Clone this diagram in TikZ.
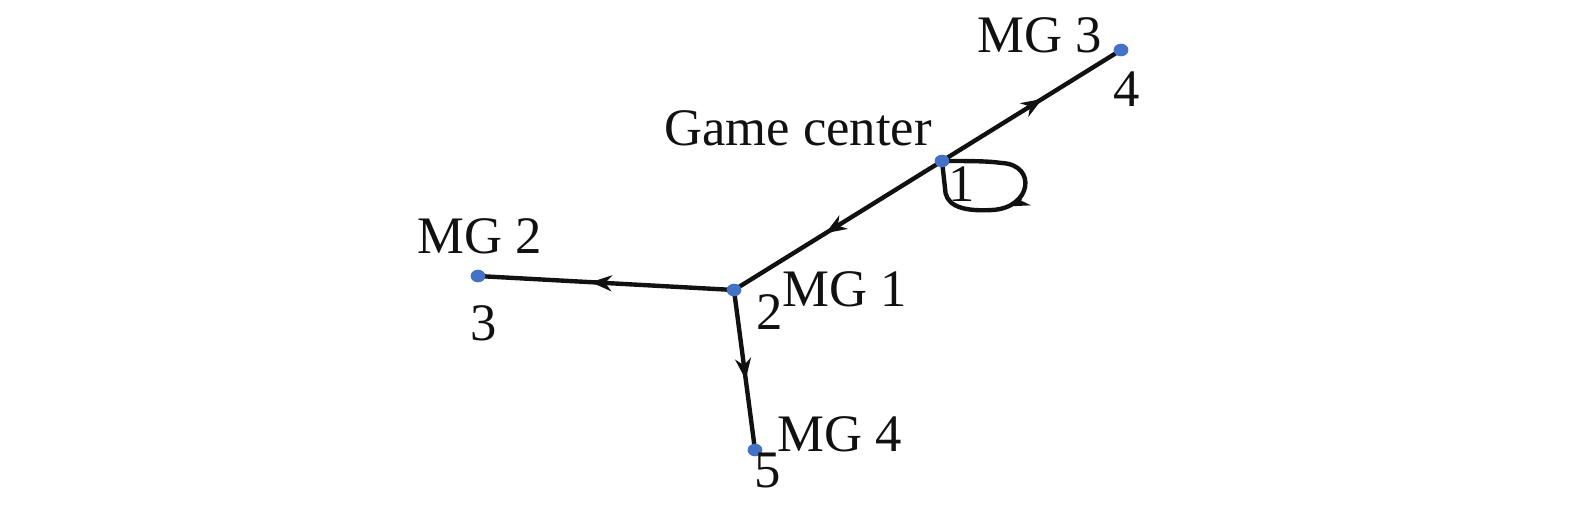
\documentclass[tikz,border=0pt]{standalone}
\usepackage{fontspec}
\setmainfont{Liberation Serif}
\usetikzlibrary{arrows.meta,decorations.markings,shapes.geometric}
\definecolor{dotblue}{HTML}{4472C4}
\definecolor{edgeblack}{HTML}{111111}
\tikzset{
  vert/.style={ellipse, fill=dotblue, minimum width=8.4pt, minimum height=7.2pt, inner sep=0pt},
  lbl/.style={font=\fontsize{30}{33}\selectfont, text=edgeblack, inner sep=0pt},
  edge/.style={draw=edgeblack, line width=2.5pt,
    postaction={decorate, decoration={markings,
      mark=at position #1 with {\arrow{Stealth[length=12pt,width=9pt,inset=3.8pt]}}}}},
  edge/.default=0.56
}
\begin{document}
\begin{tikzpicture}[x=0.02cm,y=-0.02cm]
\useasboundingbox (0,0) rectangle (1575,508);
% vertices
\coordinate (gc) at (942,161);
\coordinate (m3) at (1121,50);
\coordinate (m1) at (734,290);
\coordinate (m2) at (478,276);
\coordinate (m4) at (755,450);
% edges
\draw[edge] (gc) -- (m3);
\draw[edge] (gc) -- (m1);
\draw[edge] (m1) -- (m2);
\draw[edge] (m1) -- (m4);
\draw[edge=0.55] (gc) .. controls (972,161) and (987,161) .. (1002,163)
  .. controls (1037,165) and (1032,208) .. (992,210)
  .. controls (957,212) and (945,203) .. (945,188) -- (gc);
% dots
\node[vert] (ngc) at (gc) {};
\node[vert] (nm3) at (m3) {};
\node[vert] (nm1) at (m1) {};
\node[vert] (nm2) at (m2) {};
\node[vert] (nm4) at (m4) {};
% labels
\node[lbl] (tgc) at (798,128) {Game center};
\node[lbl] (t1) at (962,184) {1};
\node[lbl] (tm3) at (1040,35) {MG 3};
\node[lbl] (t4) at (1127,89) {4};
\node[lbl] (tm2) at (480,236) {MG 2};
\node[lbl] (t3) at (484,323) {3};
\node[lbl] (tm1) at (845,289) {MG 1};
\node[lbl] (t2) at (770,312) {2};
\node[lbl] (tm4) at (840,434) {MG 4};
\node[lbl] (t5) at (768,470) {5};
\end{tikzpicture}
\end{document}
